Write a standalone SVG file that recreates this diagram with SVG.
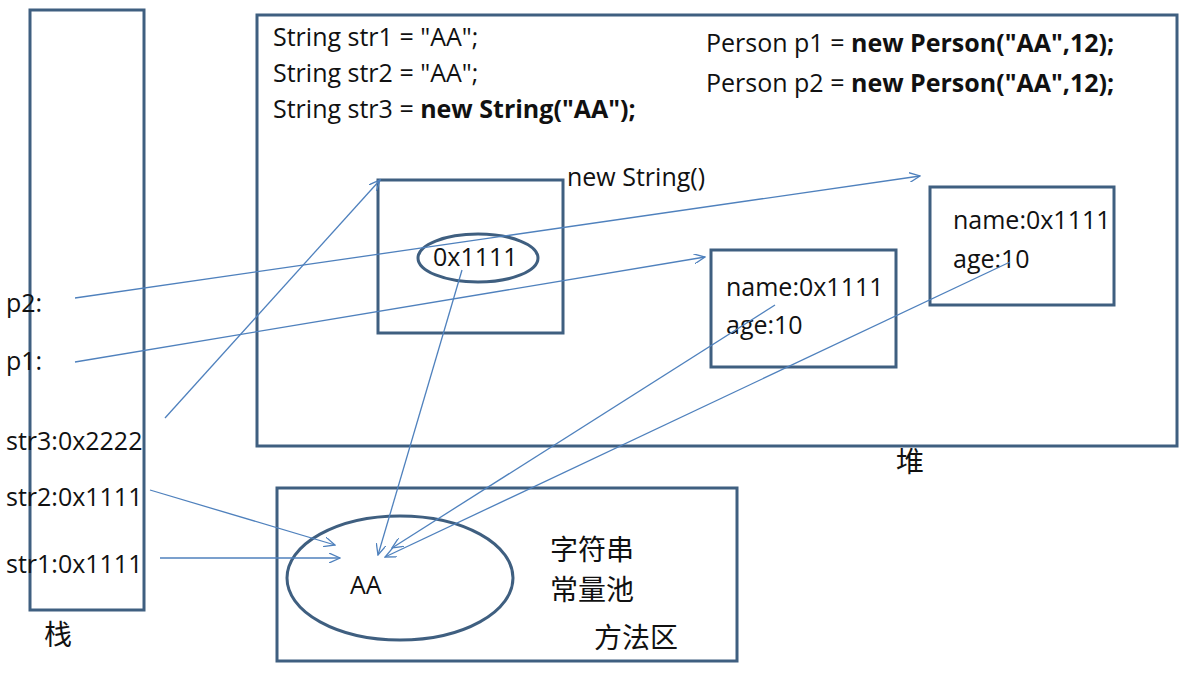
<svg xmlns="http://www.w3.org/2000/svg" width="1194" height="676" viewBox="0 0 1194 676">
<defs><marker id="a" markerWidth="12" markerHeight="10" refX="11" refY="5" orient="auto" markerUnits="userSpaceOnUse"><path d="M0,0 L11,5 L0,10" fill="none" stroke="#4f81bd" stroke-width="1.3"/></marker></defs>
<style>.b{fill:none;stroke:#3f5f80;stroke-width:3}.t{font-family:"Open Sans","Noto Sans CJK SC",sans-serif;font-size:25px;fill:#111}.k{font-family:"Noto Sans CJK SC",sans-serif;font-size:28px;fill:#111}.c{stroke:#4f81bd;stroke-width:1.3;fill:none;marker-end:url(#a)}</style>
<rect width="1194" height="676" fill="#fff"/>
<g id="stack"><rect class="b" x="30" y="10" width="114" height="600"/><text class="k" x="44" y="645">栈</text>
<text class="t" x="6" y="312">p2:</text><text class="t" x="6" y="370">p1:</text><text class="t" x="6" y="450">str3:0x2222</text><text class="t" x="6" y="506">str2:0x1111</text><text class="t" x="6" y="573">str1:0x1111</text></g>
<g id="heap"><rect class="b" x="257" y="15" width="920" height="431"/><text class="k" x="896" y="472">堆</text>
<text class="t" x="273" y="46">String str1 = "AA";</text><text class="t" x="273" y="82">String str2 = "AA";</text><text class="t" x="273" y="118">String str3 = <tspan font-weight="bold">new String("AA");</tspan></text>
<text class="t" x="706" y="52">Person p1 = <tspan font-weight="bold">new Person("AA",12);</tspan></text><text class="t" x="706" y="92">Person p2 = <tspan font-weight="bold">new Person("AA",12);</tspan></text></g>
<g id="newstring"><rect class="b" x="378" y="180" width="185" height="153"/><text class="t" x="567" y="186">new String()</text><ellipse class="b" cx="478" cy="258" rx="60" ry="24"/><text class="t" x="433" y="266">0x1111</text></g>
<g id="p1obj"><rect class="b" x="711" y="250" width="185" height="117"/><text class="t" x="726" y="296">name:0x1111</text><text class="t" x="726" y="334">age:10</text></g>
<g id="p2obj"><rect class="b" x="930" y="187" width="184" height="118"/><text class="t" x="953" y="229">name:0x1111</text><text class="t" x="953" y="268">age:10</text></g>
<g id="method"><rect class="b" x="277" y="488" width="460" height="173"/><ellipse class="b" cx="400" cy="578" rx="113" ry="62"/><text class="t" x="350" y="594">AA</text><text class="k" x="550" y="560">字符串</text><text class="k" x="550" y="600">常量池</text><text class="k" x="594" y="648">方法区</text></g>
<g id="connectors">
<line class="c" x1="160" y1="558" x2="340" y2="558"/>
<line class="c" x1="150" y1="490" x2="335" y2="545"/>
<line class="c" x1="165" y1="418" x2="380" y2="180"/>
<line class="c" x1="75" y1="298" x2="920" y2="176"/>
<line class="c" x1="75" y1="362" x2="705" y2="257"/>
<line class="c" x1="462" y1="270" x2="378" y2="555"/>
<line class="c" x1="775" y1="305" x2="392" y2="548"/>
<line class="c" x1="1010" y1="262" x2="385" y2="557"/>
</g>
</svg>
